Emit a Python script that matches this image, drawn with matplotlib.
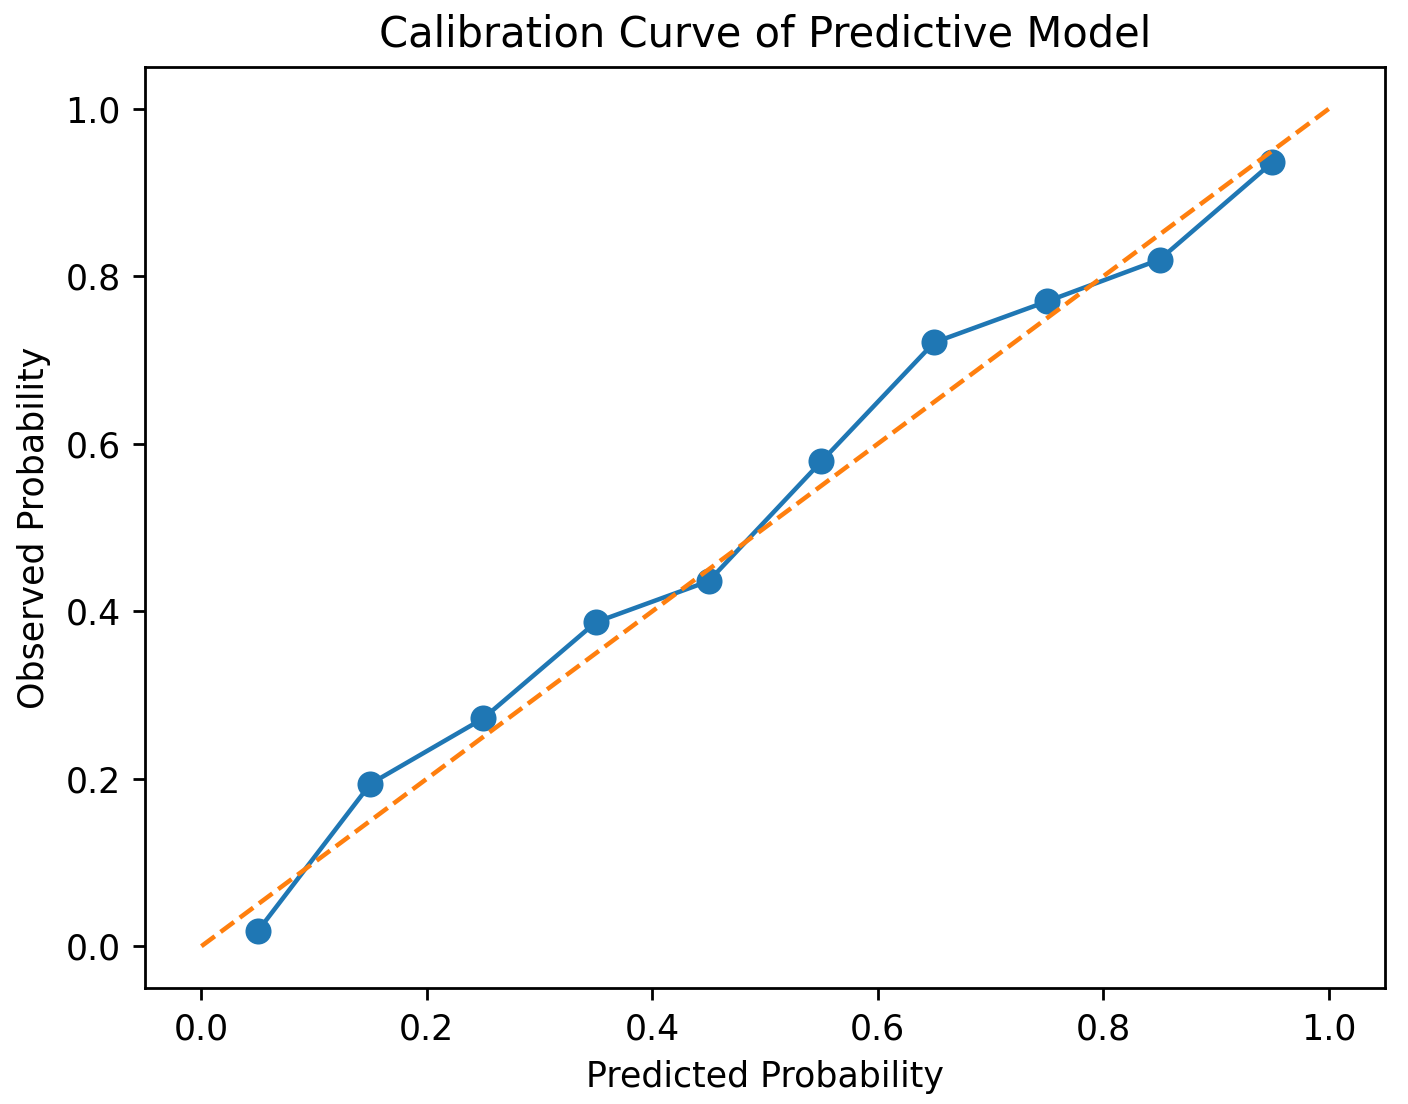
import numpy as np
import matplotlib
matplotlib.use("Agg")
import matplotlib.pyplot as plt

prob_pred = [0.05, 0.15, 0.25, 0.35, 0.45, 0.55, 0.65, 0.75, 0.85, 0.95]
prob_true = [0.018, 0.194, 0.272, 0.387, 0.436, 0.579, 0.721, 0.770, 0.820, 0.936]
diag = [0, 1]

# rendered a bit bigger than default -> use higher dpi on a smaller canvas
fig = plt.figure(figsize=(1408 / 250, 1104 / 250), dpi=250)
ax = fig.add_axes([0.103, 0.105, 0.8807, 0.8343])

ax.plot(prob_pred, prob_true, marker="o", markersize=6.5, linewidth=1.3)
ax.plot(diag, diag, linestyle="--", linewidth=1.3)

ax.set_xlabel("Predicted Probability")
ax.set_ylabel("Observed Probability")
ax.set_title("Calibration Curve of Predictive Model")

fig.savefig("out.png", dpi=250)
